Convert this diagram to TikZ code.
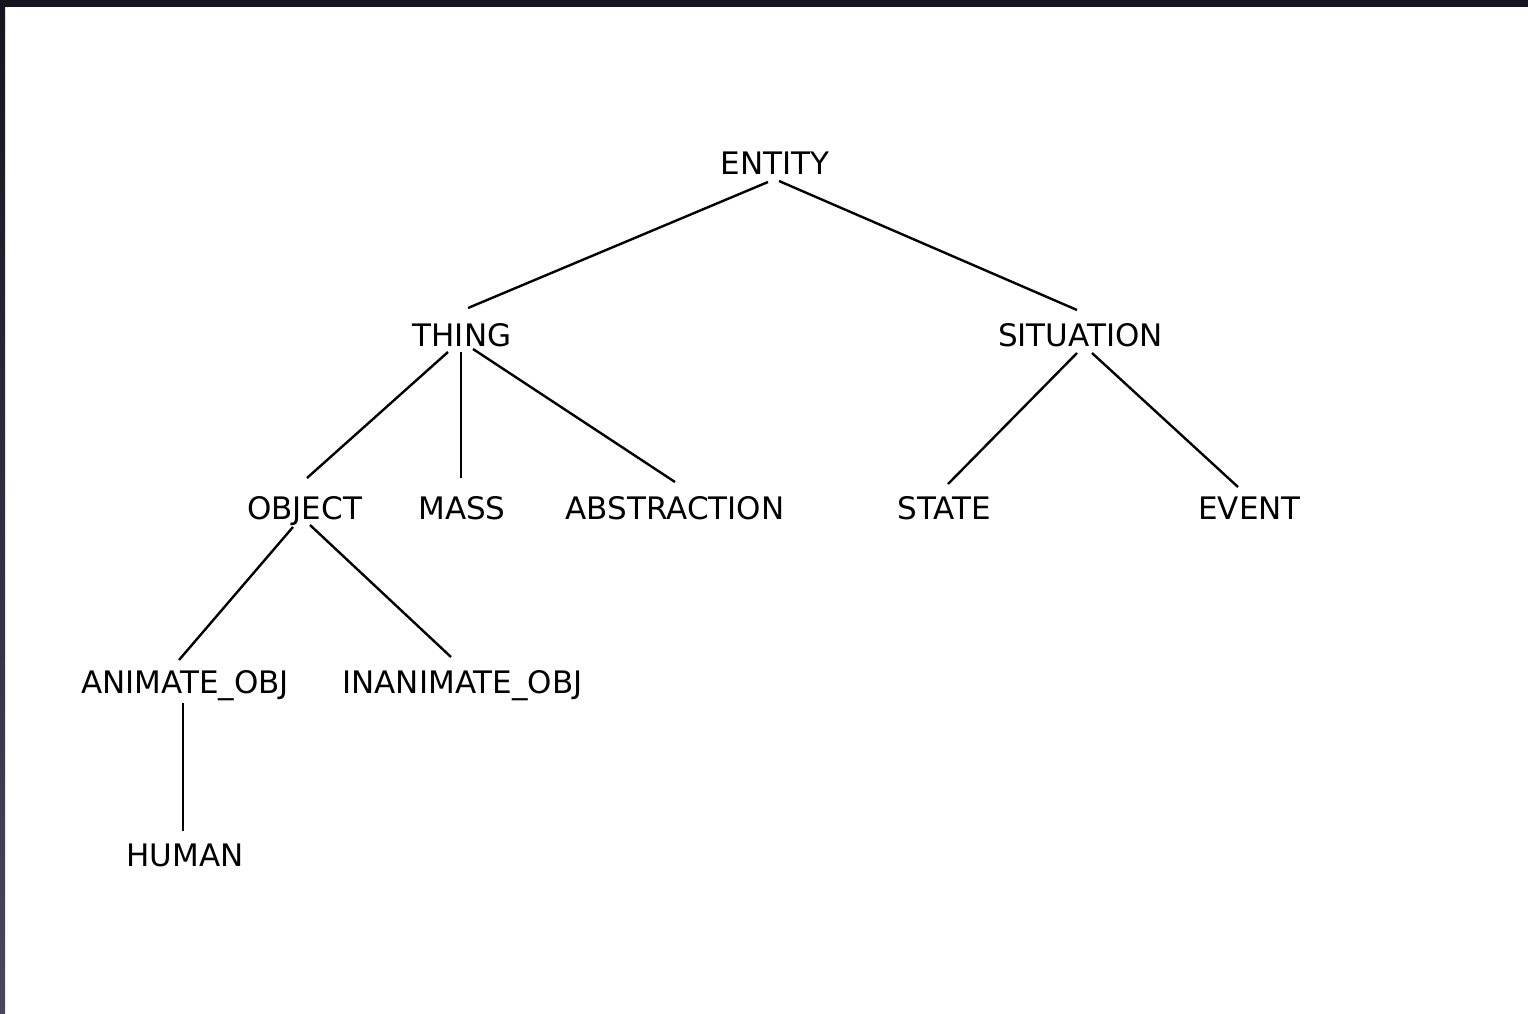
\documentclass[tikz,border=0pt]{standalone}
\usepackage{fontspec}
\setmainfont{DejaVu Sans}
\definecolor{framedark}{HTML}{15141F}
\definecolor{framelow}{HTML}{4A4660}
\begin{document}
\begin{tikzpicture}[x=1pt,y=-1pt,
  lbl/.style={inner sep=0pt,text height=22.6pt,text depth=0pt,anchor=center,font=\fontsize{31}{34}\selectfont},
  edge/.style={line width=2.4pt,black}]
\useasboundingbox (0,0) rectangle (1528,1013);
\fill[white] (0,0) rectangle (1528,1013);
\fill[framedark] (0,0) rectangle (1528,7);
\shade[top color=framedark,bottom color=framelow] (0,0) rectangle (5,1013);
% nodes
\node[lbl] (entity) at (775,163) {ENTITY};
\node[lbl] (thing) at (462,335) {THING};
\node[lbl] (situation) at (1080.5,335) {SITUATION};
\node[lbl] (object) at (304.5,508) {OBJECT};
\node[lbl] (mass) at (462,508) {MASS};
\node[lbl] (abstraction) at (675,508) {ABSTRACTION};
\node[lbl] (state) at (944.5,508) {STATE};
\node[lbl] (event) at (1249.5,508) {EVENT};
\node[lbl] (animate) at (185,682) {ANIMATE\_OBJ};
\node[lbl] (inanimate) at (462.5,682) {INANIMATE\_OBJ};
\node[lbl] (human) at (185,855) {HUMAN};
% connectors
\draw[edge] ([shift={(-7,19)}]entity.center) -- ([shift={(6,-27)}]thing.center);
\draw[edge] ([shift={(4,18)}]entity.center) -- ([shift={(-3.5,-25)}]situation.center);
\draw[edge] ([shift={(-14,17)}]thing.center) -- ([shift={(2.5,-30)}]object.center);
\draw[edge] ([shift={(-1,17)}]thing.center) -- ([shift={(-1,-30)}]mass.center);
\draw[edge] ([shift={(11,14)}]thing.center) -- ([shift={(0,-26)}]abstraction.center);
\draw[edge] ([shift={(-3.5,18)}]situation.center) -- ([shift={(3.5,-24)}]state.center);
\draw[edge] ([shift={(11.5,18)}]situation.center) -- ([shift={(-11.5,-21)}]event.center);
\draw[edge] ([shift={(-11.5,19)}]object.center) -- ([shift={(-6,-22)}]animate.center);
\draw[edge] ([shift={(5.5,17)}]object.center) -- ([shift={(-11.5,-25)}]inanimate.center);
\draw[edge] ([shift={(-2,21)}]animate.center) -- ([shift={(-2,-24)}]human.center);
\end{tikzpicture}
\end{document}
